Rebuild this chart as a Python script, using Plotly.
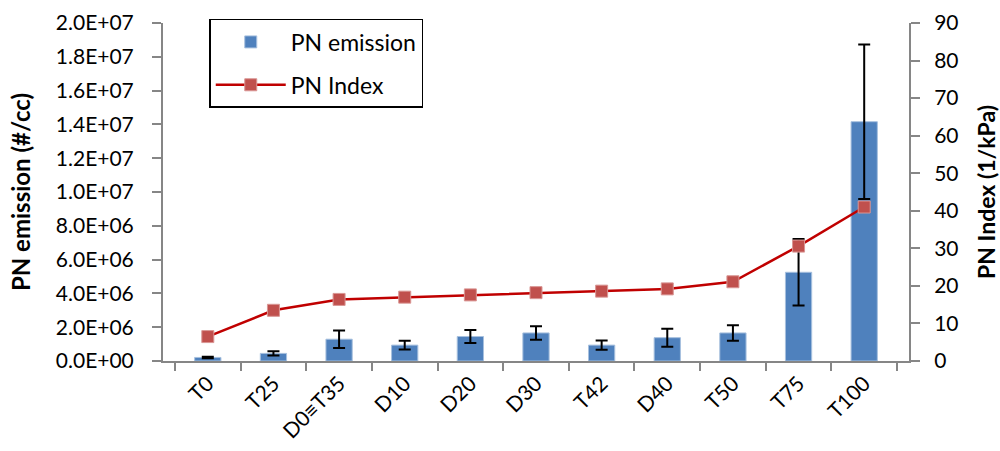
import plotly.graph_objects as go

categories = ["T0", "T25", "D0≡T35", "D10", "D20", "D30", "T42", "D40", "T50", "T75", "T100"]
pn_emission = [2.1e5, 4.5e5, 1.29e6, 0.94e6, 1.45e6, 1.66e6, 0.94e6, 1.38e6, 1.66e6, 5.25e6, 1.416e7]
pn_emission_err = [0.4e5, 1.2e5, 0.52e6, 0.26e6, 0.38e6, 0.40e6, 0.27e6, 0.53e6, 0.46e6, 1.97e6, 4.57e6]
pn_index = [6.5, 13.5, 16.4, 17.0, 17.6, 18.2, 18.6, 19.2, 21.1, 30.6, 41.0]

left_ticks = [0, 2e6, 4e6, 6e6, 8e6, 1e7, 1.2e7, 1.4e7, 1.6e7, 1.8e7, 2e7]
left_ticktext = ["0.0E+00", "2.0E+06", "4.0E+06", "6.0E+06", "8.0E+06", "1.0E+07",
                 "1.2E+07", "1.4E+07", "1.6E+07", "1.8E+07", "2.0E+07"]
right_ticks = [0, 10, 20, 30, 40, 50, 60, 70, 80, 90]

FONT = "Lato, Carlito, 'Noto Sans', sans-serif"
AXIS_GRAY = "#868686"

fig = go.Figure()
fig.add_trace(go.Bar(
    x=categories, y=pn_emission, name="PN emission",
    marker=dict(color="#4F81BD", line=dict(color="#A7C0DE", width=1)),
    width=0.4,
    error_y=dict(type="data", array=pn_emission_err, visible=True,
                 color="black", thickness=2, width=6),
    legendgroup="a",
))
fig.add_trace(go.Scatter(
    x=categories, y=pn_index, name="PN Index", yaxis="y2",
    mode="lines+markers",
    line=dict(color="#C00000", width=2.5),
    marker=dict(symbol="square", size=12, color="#C0504D",
                line=dict(color="#D99694", width=1)),
    legendgroup="b",
))

fig.update_layout(
    width=1000, height=451,
    margin=dict(l=163, r=91, t=23, b=90, autoexpand=False),
    plot_bgcolor="white", paper_bgcolor="white",
    font=dict(family=FONT, size=21, color="black"),
    showlegend=True,
    legend=dict(x=0.062, y=1.012, xanchor="left", yanchor="top",
                bordercolor="black", borderwidth=1.5, bgcolor="white",
                font=dict(size=23), tracegroupgap=10, itemwidth=70),
    xaxis=dict(showline=True, linecolor=AXIS_GRAY, linewidth=2,
               ticks="outside", ticklen=8, tickcolor=AXIS_GRAY, tickwidth=2,
               tickson="boundaries", tickangle=-45, automargin=False,
               tickfont=dict(size=21), showgrid=False),
    yaxis=dict(range=[0, 2e7], tickvals=left_ticks, ticktext=left_ticktext,
               showline=True, linecolor=AXIS_GRAY, linewidth=2,
               ticks="outside", ticklen=9, tickcolor=AXIS_GRAY, tickwidth=2,
               ticklabelstandoff=14, automargin=False,
               showgrid=False, zeroline=False,
               title=dict(text="<b>PN emission (#/cc)</b>", font=dict(size=24), standoff=18),
               tickfont=dict(size=21)),
    yaxis2=dict(range=[0, 90], tickvals=right_ticks, overlaying="y", side="right",
                showline=True, linecolor=AXIS_GRAY, linewidth=2,
                ticks="outside", ticklen=9, tickcolor=AXIS_GRAY, tickwidth=2,
                ticklabelstandoff=10, automargin=False,
                showgrid=False, zeroline=False,
                title=dict(text="<b>PN Index (1/kPa)</b>", font=dict(size=23), standoff=26),
                tickfont=dict(size=21)),
    bargap=0.6,
)

fig.write_html("out.html", config={"displayModeBar": False},
               post_script="document.body.style.margin='0';")
